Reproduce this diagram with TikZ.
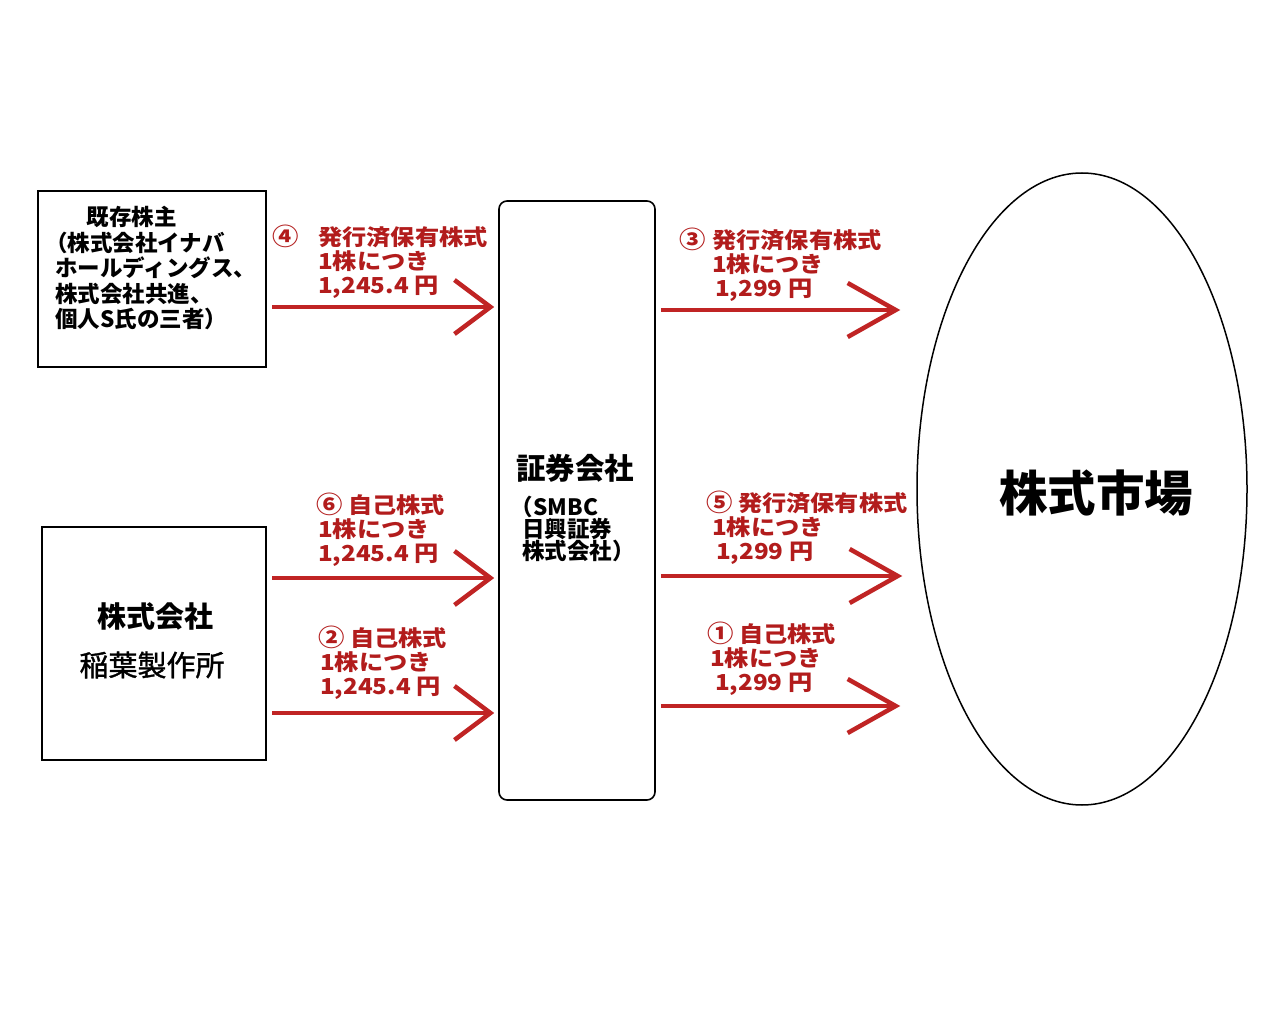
\documentclass[tikz,border=0pt]{standalone}
\usepackage{fontspec}
\setmainfont{Noto Sans CJK JP}
\newfontfamily\labelfont[FakeStretch=1.1]{Noto Sans CJK JP}
\newfontfamily\namefont[FakeBold=1.2]{Noto Sans CJK JP}
\usetikzlibrary{shapes, positioning, calc, arrows.meta}
\definecolor{flowred}{RGB}{192,36,36}
\definecolor{labelred}{RGB}{178,28,28}
\newcommand{\circnum}[1]{{\fontsize{24}{24}\selectfont #1}}

\begin{document}
\begin{tikzpicture}[x=1pt, y=-1pt,
    party/.style={draw,
      line width=2pt,
      inner sep=0pt},
    broker/.style={draw,
      line width=1.6pt,
      rounded corners=8pt,
      inner sep=0pt},
    flow/.style={draw=flowred,
      line width=4.5pt,
      shorten <=5pt,
      -{Straight Barb[length=#1, width=54pt]}},
    flow/.default=36pt,
    price/.style={text=labelred,
      font=\labelfont\bfseries\fontsize{22}{24}\selectfont,
      align=left,
      anchor=west,
      inner sep=0pt}]

  \fill[white] (0,0) rectangle (1280,1024);
  \useasboundingbox (0,0) rectangle (1280,1024);

  % PARTIES

  \node [party, minimum width=228pt, minimum height=176pt] (holders) at (152,279) {};
  \node [font=\bfseries\fontsize{22.5}{25.5}\selectfont,
    align=left,
    anchor=north west,
    inner sep=0pt] (holderstext) at (55,206) {
    \hspace*{1.4em}既存株主\\
    \hspace*{-0.45em}（株式会社イナバ\\
    ホールディングス、\\
    株式会社共進、\\
    個人S氏の三者）
  };

  \node [party, minimum width=224pt, minimum height=233pt] (maker) at (154,643.5) {};
  \node [font=\bfseries\fontsize{29}{30}\selectfont] (makertitle) at (155,616) {株式会社};
  \node [font=\namefont\fontsize{29}{30}\selectfont] (makername) at (152,665) {稲葉製作所};

  \node [broker, minimum width=156pt, minimum height=599pt] (broker) at (577,500.5) {};
  \node [font=\bfseries\fontsize{29.5}{30}\selectfont] (brokertitle) at (575,468) {証券会社};
  \node [font=\bfseries\fontsize{22.5}{22}\selectfont,
    align=left,
    anchor=north west,
    inner sep=0pt] (brokername) at (522,495.5) {
    \hspace*{-0.5em}（SMBC\\
    日興証券\\
    株式会社）
  };

  \node [ellipse, draw, line width=1.5pt,
    minimum width=330pt, minimum height=632pt,
    inner sep=0pt] (market) at (1082,489) {};
  \node [font=\bfseries\fontsize{48.5}{50}\selectfont] (markettitle) at (1096,493) {株式市場};

  % FLOWS

  \draw [flow, shorten >=4pt] ($(holders.east)+(0,28)$)
    -- ($(holders.east -| broker.west)+(0,28)$);
  \draw [flow, shorten >=4pt] ($(maker.east)+(0,-65.5)$)
    -- ($(maker.east -| broker.west)+(0,-65.5)$);
  \draw [flow, shorten >=4pt] ($(maker.east)+(0,69.5)$)
    -- ($(maker.east -| broker.west)+(0,69.5)$);

  \draw [flow=48pt, shorten >=16pt] ($(broker.east)+(0,-190.5)$)
    -- ($(broker.east -| market.west)+(0,-190.5)$);
  \draw [flow=48pt, shorten >=14pt] ($(broker.east)+(0,75.5)$)
    -- ($(broker.east -| market.west)+(0,75.5)$);
  \draw [flow=48pt, shorten >=16pt] ($(broker.east)+(0,205.5)$)
    -- ($(broker.east -| market.west)+(0,205.5)$);

  % PRICES

  \node [price] (price4) at (318,262) {
    \llap{\circnum{④}\hspace{0.9em}}発行済保有株式\\
    1株につき\\
    1,245.4 円
  };

  \node [price] (price3) at (712,265) {
    \llap{\circnum{③}\hspace{0.3em}}発行済保有株式\\
    1株につき\\
    \hspace*{3pt}1,299 円
  };

  \node [price] (price6) at (316,530) {
    \circnum{⑥} 自己株式\\
    \hspace*{2pt}1株につき\\
    \hspace*{2pt}1,245.4 円
  };

  \node [price] (price5) at (706,528) {
    \circnum{⑤} 発行済保有株式\\
    \hspace*{6pt}1株につき\\
    \hspace*{10pt}1,299 円
  };

  \node [price] (price2) at (318,663) {
    \circnum{②} 自己株式\\
    \hspace*{2pt}1株につき\\
    \hspace*{2pt}1,245.4 円
  };

  \node [price] (price1) at (707,659) {
    \circnum{①} 自己株式\\
    \hspace*{3pt}1株につき\\
    \hspace*{8pt}1,299 円
  };

\end{tikzpicture}
\end{document}
